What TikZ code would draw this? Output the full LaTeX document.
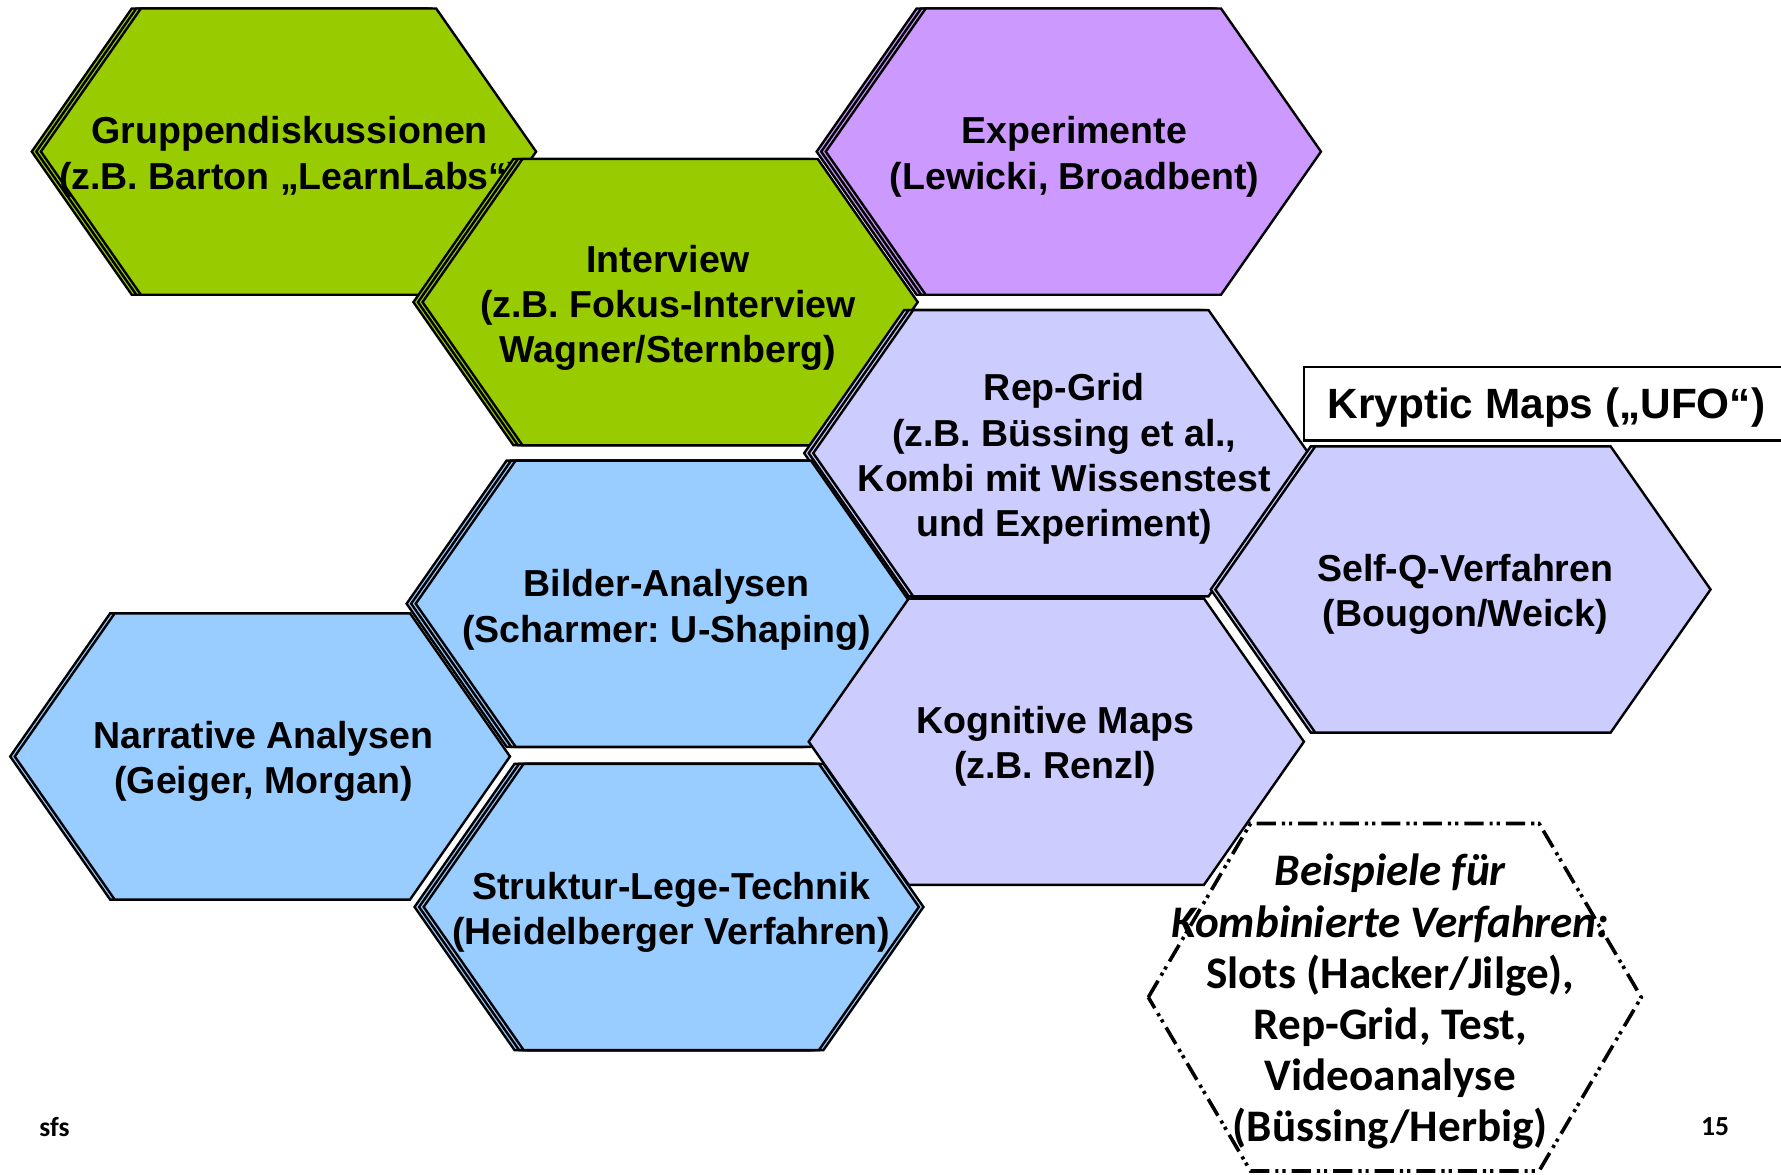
\documentclass[tikz,border=0pt]{standalone}
\usepackage{fontspec}
\setmainfont{Liberation Sans}
\newfontfamily\calibri{Carlito}
\frenchspacing
\definecolor{greencell}{HTML}{99CC00}
\definecolor{purplecell}{HTML}{CC99FF}
\definecolor{lavcell}{HTML}{CCCCFF}
\definecolor{bluecell}{HTML}{99CCFF}
\newcommand{\hexpath}{(-218,0) -- (-130,-126) -- (130,-126) -- (218,0) -- (130,126) -- (-130,126) -- cycle}

\begin{document}
\begin{tikzpicture}[x=0.01cm, y=-0.01cm,
  cell/.style={draw=black, line width=0.6pt, line join=miter},
  celltext/.style={font=\fontsize{9.4}{11.3}\selectfont\bfseries, align=center, inner sep=0pt},
  kombi/.style={draw=black, line width=0.9pt,
    dash pattern=on 4.8pt off 1.5pt on 0.8pt off 1pt on 0.8pt off 1.5pt}]
  \useasboundingbox (0,0) rectangle (1568,1034);

  % green: group talk and interview
  \draw[cell, fill=greencell, shift={(246,133.5)}] \hexpath;
  \draw[cell, fill=greencell, shift={(250,133.5)}] \hexpath;
  \draw[cell, fill=greencell, shift={(254,133.5)}] \hexpath;
  \node[celltext] (gruppen) at (255,138) {Gruppendiskussionen\\(z.B. Barton „LearnLabs“)};

  \draw[cell, fill=greencell, shift={(582,266)}] \hexpath;
  \draw[cell, fill=greencell, shift={(586,266)}] \hexpath;
  \draw[cell, fill=greencell, shift={(590,266)}] \hexpath;
  \node[celltext] (interview) at (588,271)
    {Interview\\(z.B. Fokus-Interview\\Wagner/Sternberg)};

  % purple
  \draw[cell, fill=purplecell, shift={(937,133.5)}] \hexpath;
  \draw[cell, fill=purplecell, shift={(941,133.5)}] \hexpath;
  \draw[cell, fill=purplecell, shift={(945,133.5)}] \hexpath;
  \node[celltext] (experimente) at (946,138) {Experimente\\(Lewicki, Broadbent)};

  % lavender
  \draw[cell, fill=lavcell, shift={(926,399)}] \hexpath;
  \draw[cell, fill=lavcell, shift={(930,399)}] \hexpath;
  \draw[cell, fill=lavcell, shift={(934,399)}] \hexpath;
  \node[celltext] (repgrid) at (937,404)
    {Rep-Grid\\(z.B. Büssing et al.,\\Kombi mit Wissenstest\\und Experiment)};

  \draw[cell, fill=lavcell, shift={(1284,519)}] \hexpath;
  \draw[cell, fill=lavcell, shift={(1288,519)}] \hexpath;
  \node[celltext] (selfq) at (1290,523) {Self-Q-Verfahren\\(Bougon/Weick)};

  % blue
  \draw[cell, fill=bluecell, shift={(576,531.5)}] \hexpath;
  \draw[cell, fill=bluecell, shift={(580,531.5)}] \hexpath;
  \draw[cell, fill=bluecell, shift={(584,531.5)}] \hexpath;
  \node[celltext] (bilder) at (587,537) {Bilder-Analysen\\(Scharmer: U-Shaping)};

  \draw[cell, fill=bluecell, shift={(227,666)}] \hexpath;
  \draw[cell, fill=bluecell, shift={(231,666)}] \hexpath;
  \node[celltext] (narrativ) at (232,670) {Narrative Analysen\\(Geiger, Morgan)};

  \draw[cell, fill=lavcell, shift={(930,653)}] \hexpath;
  \node[celltext] (kognitiv) at (929,657) {Kognitive Maps\\(z.B. Renzl)};

  \draw[cell, fill=bluecell, shift={(595,798.5)}] \hexpath;
  \draw[cell, fill=bluecell, shift={(583,798.5)}] \hexpath;
  \draw[cell, fill=bluecell, shift={(587,798.5)}] \hexpath;
  \draw[cell, fill=bluecell, shift={(591,798.5)}] \hexpath;
  \node[celltext] (struktur) at (591,803)
    {Struktur-Lege-Technik\\(Heidelberger Verfahren)};

  % label box and combined methods
  \draw[line width=0.6pt] (1148,323) rectangle (1575,388);
  \node[inner sep=0pt, font=\fontsize{10.6}{12}\selectfont\bfseries] (kryptic) at (1361.5,359)
    {Kryptic Maps („UFO“)};

  \draw[kombi] (1011,878) -- (1101,725) -- (1355,725) -- (1445,878)
    -- (1355,1031) -- (1101,1031) -- cycle;
  \node[align=center, inner sep=0pt, font=\calibri\fontsize{11.3}{12.8}\selectfont\bfseries]
    (kombiniert) at (1224,882)
    {\itshape Beispiele für\\\itshape Kombinierte Verfahren:\\Slots (Hacker/Jilge),\\
     Rep-Grid, Test,\\Videoanalyse\\(Büssing/Herbig)};

  \node[font=\calibri\fontsize{6.9}{8}\selectfont\bfseries, inner sep=0pt] (sfs) at (48,992) {sfs};
  \node[font=\calibri\fontsize{6.9}{8}\selectfont\bfseries, inner sep=0pt] (page) at (1510,992) {15};
\end{tikzpicture}
\end{document}
